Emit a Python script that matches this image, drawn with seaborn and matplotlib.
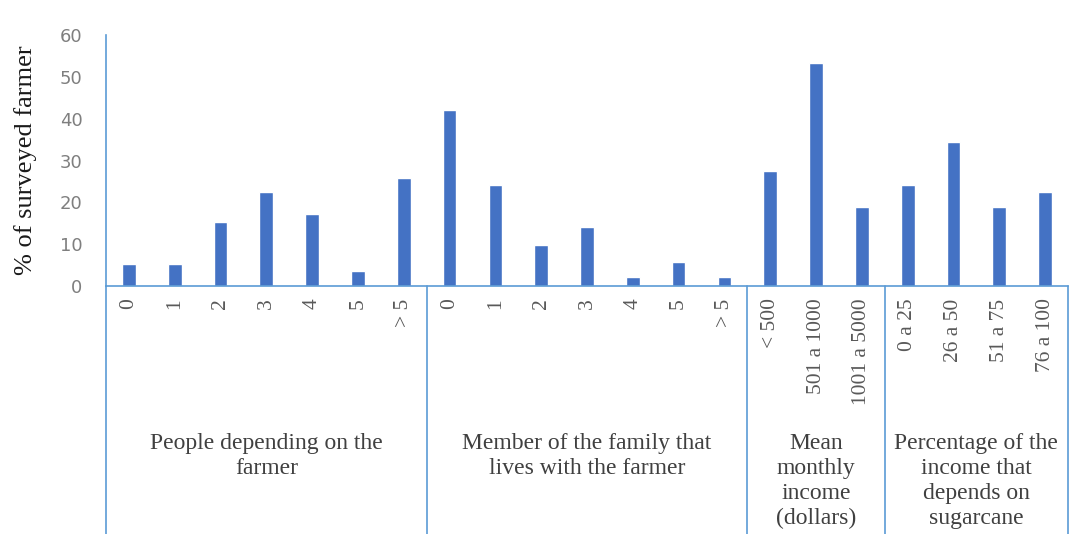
import numpy as np
import pandas as pd
import matplotlib
matplotlib.use("Agg")
import matplotlib.pyplot as plt
import matplotlib.transforms as mtransforms
import seaborn as sns

# data
groups = [
    "People depending on the\nfarmer",
    "Member of the family that\nlives with the farmer",
    "Mean\nmonthly\nincome\n(dollars)",
    "Percentage of the\nincome that\ndepends on\nsugarcane",
]
dependents_labels = ["0", "1", "2", "3", "4", "5", "> 5"]
dependents_values = [5.3, 5.3, 15.4, 22.4, 17.1, 3.6, 25.9]
family_labels = ["0", "1", "2", "3", "4", "5", "> 5"]
family_values = [42.1, 24.2, 9.9, 14.0, 2.1, 5.8, 2.1]
income_labels = ["< 500", "501 a 1000", "1001 a 5000"]
income_values = [27.6, 53.4, 18.9]
share_labels = ["0 a 25", "26 a 50", "51 a 75", "76 a 100"]
share_values = [24.2, 34.5, 18.9, 22.4]

all_labels = [dependents_labels, family_labels, income_labels, share_labels]
all_values = [dependents_values, family_values, income_values, share_values]

rows = []
for gi, (labs, vals) in enumerate(zip(all_labels, all_values)):
    for lab, v in zip(labs, vals):
        rows.append({"key": f"{gi}_{lab}", "label": lab, "group": gi, "value": v})
df = pd.DataFrame(rows)

BAR = "#4472C4"
LINE = "#5B9BD5"

sns.set_style("white")
plt.rcParams["font.family"] = ["Liberation Serif", "DejaVu Serif"]

fig = plt.figure(figsize=(10.71, 5.34), dpi=100)
W, H = 1071, 534
ax = fig.add_axes([106 / W, (H - 286) / H, (1068 - 106) / W, (286 - 35) / H])

sns.barplot(data=df, x="key", y="value", color=BAR, width=0.3,
            saturation=1, ax=ax)

ax.set_ylim(0, 60)
ax.set_xlim(-0.5, len(df) - 0.5)
ax.set_yticks(range(0, 61, 10))
ax.set_yticklabels([str(t) for t in range(0, 61, 10)],
                   family="DejaVu Sans", fontsize=13, color="#7f7f7f")
ax.set_xticks(range(len(df)))
ax.set_xticklabels(df["label"], rotation=90, fontsize=15.5, color="#595959")
ax.tick_params(axis="both", length=0)
ax.tick_params(axis="x", pad=9)
ax.tick_params(axis="y", pad=17)

ax.set_xlabel("")
ax.set_ylabel("% of surveyed farmer", fontsize=19, color="#1a1a1a", labelpad=16)

for s in ["top", "right"]:
    ax.spines[s].set_visible(False)
for s in ["left", "bottom"]:
    ax.spines[s].set_color(LINE)
    ax.spines[s].set_linewidth(1.2)

# group separators and group labels below the axis
trans = mtransforms.blended_transform_factory(ax.transData, ax.transAxes)
sizes = [len(v) for v in all_values]
bounds = np.concatenate([[0], np.cumsum(sizes)]) - 0.5
for b in bounds:
    ax.plot([b, b], [0, -1.0], transform=trans, color=LINE, lw=1.2,
            clip_on=False)
label_y = -(433 - 286) / (286 - 35)
for gi, name in enumerate(groups):
    cx = (bounds[gi] + bounds[gi + 1]) / 2
    ax.text(cx, label_y, name, transform=trans, ha="center", va="top",
            fontsize=17, color="#404040", linespacing=1.25)

fig.savefig("out.png", dpi=100)
